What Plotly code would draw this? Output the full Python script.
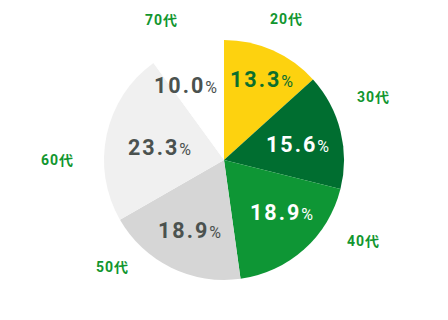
import math
import plotly.graph_objects as go

categories = ["20代", "30代", "40代", "50代", "60代", "70代"]
values = [13.3, 15.6, 18.9, 18.9, 23.3, 10.0]

colors = ["#FDD20F", "#006E30", "#0E9635", "#D6D6D6", "#F0F0F0", "#FFFFFF"]
pct_colors = ["#0B6E2E", "#FFFFFF", "#FFFFFF", "#4B524F", "#4B524F", "#4B524F"]
label_color = "#12962F"
# layout: radius factors and angle nudges (degrees) for the annotations
pct_radius = [0.74, 0.63, 0.65, 0.65, 0.55, 0.70]
pct_nudge = [1, 2, -6, 0, -1, -9]
label_radius = [1.29, 1.35, 1.34, 1.29, 1.39, 1.28]
label_nudge = [0, -9, -18, 20, -12, -6]

W, H = 448, 320
CX, CY, R = 224, 160, 120

fig = go.Figure(go.Pie(
    labels=categories,
    values=values,
    sort=False,
    direction="clockwise",
    rotation=0,
    marker=dict(colors=colors, line=dict(width=0)),
    textinfo="none",
    hoverinfo="skip",
    showlegend=False,
    domain=dict(x=[0, 1], y=[1 - (CY + R) / H, 1 - (CY - R) / H]),
))

total = sum(values)
cum = 0.0
annotations = []
for i, (cat, v) in enumerate(zip(categories, values)):
    mid = (cum + v / 2) / total * 360.0
    cum += v
    a = math.radians(mid + pct_nudge[i])
    r = pct_radius[i] * R
    px = CX + r * math.sin(a)
    py = CY - r * math.cos(a)
    annotations.append(dict(
        x=px / W, y=1 - py / H, xref="paper", yref="paper",
        text=(f"<span style='letter-spacing:2px'><b>{v:.1f}</b></span>"
              f"<span style='font-size:16px'>%</span>"),
        showarrow=False,
        font=dict(family="Roboto", size=21.5, color=pct_colors[i]),
        xanchor="center", yanchor="middle",
    ))
    a2 = math.radians(mid + label_nudge[i])
    r2 = label_radius[i] * R
    lx = CX + r2 * math.sin(a2)
    ly = CY - r2 * math.cos(a2)
    annotations.append(dict(
        x=lx / W, y=1 - ly / H, xref="paper", yref="paper",
        text=f"<span style='letter-spacing:1px'><b>{cat}</b></span>",
        showarrow=False,
        font=dict(family="Roboto, 'Noto Sans CJK JP'", size=14, color=label_color),
        xanchor="center", yanchor="middle",
    ))

fig.update_layout(
    width=W, height=H,
    margin=dict(l=0, r=0, t=0, b=0),
    paper_bgcolor="white", plot_bgcolor="white",
    annotations=annotations,
)

fig.write_html("out.html")
